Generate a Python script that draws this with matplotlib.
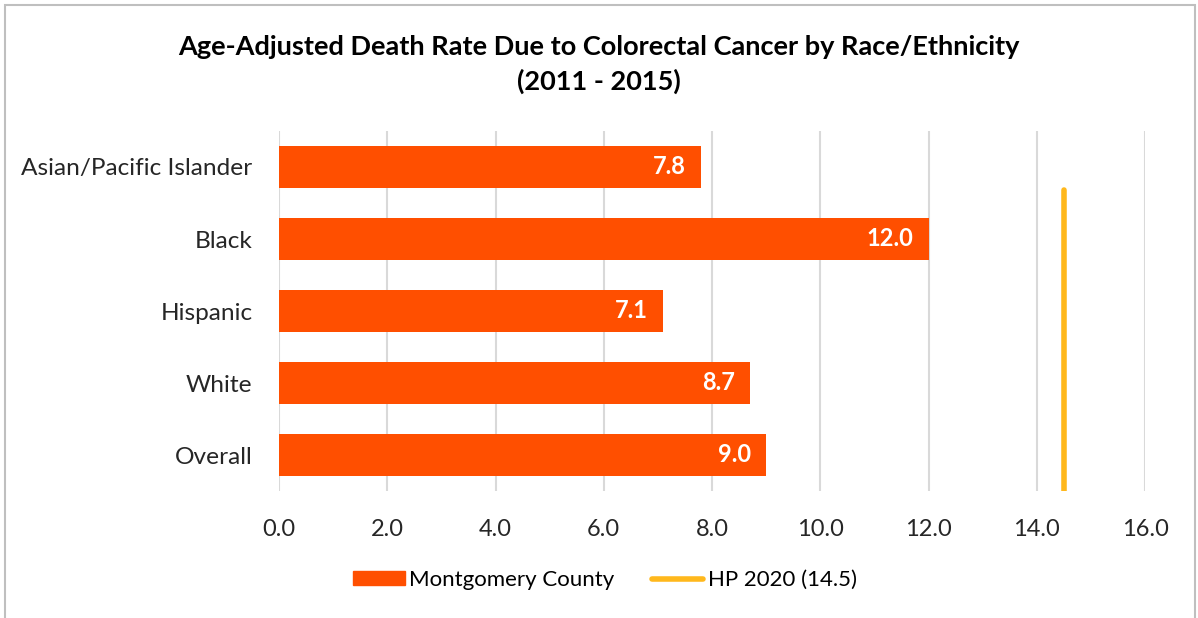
import matplotlib.pyplot as plt
import matplotlib.patches as mpatches
from matplotlib.lines import Line2D
import numpy as np

plt.rcParams['font.family'] = ['Lato', 'DejaVu Sans']

categories = ['Asian/Pacific Islander', 'Black', 'Hispanic', 'White', 'Overall']
rates = [7.8, 12.0, 7.1, 8.7, 9.0]
hp2020 = 14.5
xticks = [0, 2, 4, 6, 8, 10, 12, 14, 16]

barColor = '#FF4F00'
hpColor = '#FFB81C'
gridColor = '#D9D9D9'

fig = plt.figure(figsize=(11.98, 6.18), dpi=100)
ax = fig.add_axes([279/1198, 1 - 491/618, (1145 - 279)/1198, 360/618])

index = np.arange(len(categories))
ax.barh(index, rates, height=0.58, color=barColor, zorder=2)
ax.axvline(hp2020, ymin=0, ymax=0.835, color=hpColor, lw=4, zorder=3,
           solid_capstyle='round')

# value labels inside the bar ends
for i, v in zip(index, rates):
    ax.text(v - 0.28, i, '%.1f' % v, ha='right', va='center', color='white',
            fontsize=17, fontweight='bold', zorder=4)

ax.set_xlim(0, 16)
ax.set_ylim(len(categories) - 0.5, -0.5)
ax.set_yticks(index)
ax.set_yticklabels(categories, fontsize=17.6, color='#262626')
ax.set_xticks(xticks)
ax.set_xticklabels(['%.1f' % t for t in xticks], fontsize=17, color='#262626')
ax.tick_params(axis='both', length=0)
ax.tick_params(axis='y', pad=19)
ax.tick_params(axis='x', pad=20)
ax.grid(axis='x', color=gridColor, lw=1.5, zorder=0)
for s in ax.spines.values():
    s.set_visible(False)

fig.text(0.5, 1 - 47/618, 'Age-Adjusted Death Rate Due to Colorectal Cancer by Race/Ethnicity',
         ha='center', va='center', fontsize=19.5, fontweight='bold')
fig.text(0.5, 1 - 81/618, '(2011 - 2015)', ha='center', va='center',
         fontsize=19.5, fontweight='bold')

handles = [mpatches.Patch(color=barColor, label='Montgomery County'),
           Line2D([0], [0], color=hpColor, lw=4, solid_capstyle='round', label='HP 2020 (14.5)')]
fig.legend(handles=handles, loc='center', bbox_to_anchor=(0.505, 1 - 580/618), ncol=2,
           frameon=False, fontsize=16, handlelength=2.3, handleheight=0.55,
           handletextpad=0.2, columnspacing=1.7)

fig.add_artist(mpatches.Rectangle((5/1198, -0.05), 1190/1198, 1 - 5/618 + 0.05,
                                  transform=fig.transFigure, fill=False,
                                  edgecolor='#BFBFBF', lw=1.5))

fig.savefig('out.png', dpi=100)
